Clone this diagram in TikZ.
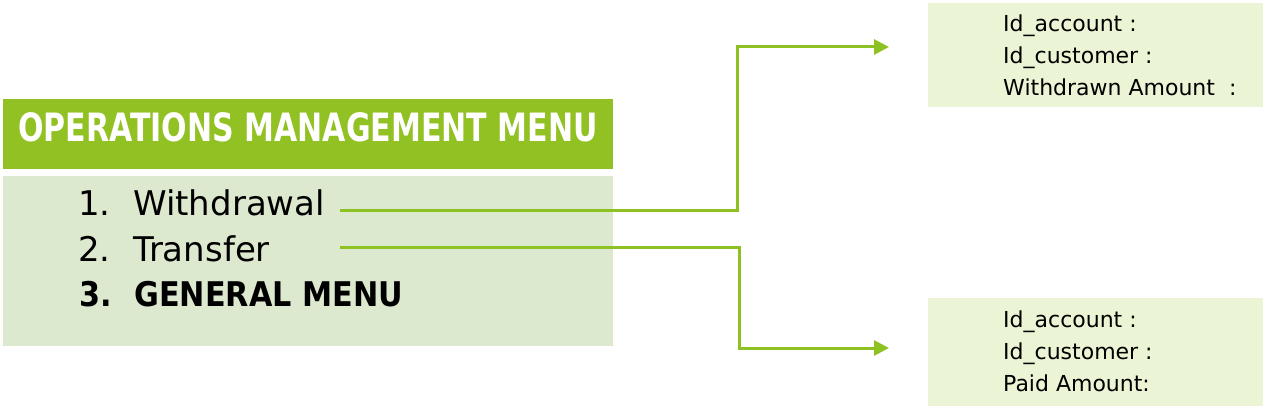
\documentclass[tikz,border=0pt]{standalone}
\usepackage{fontspec}
\setmainfont{DejaVu Sans}
\newfontfamily\hdrfont[FakeStretch=0.77]{DejaVu Sans Bold}
\newfontfamily\itembold[FakeStretch=0.89]{DejaVu Sans Bold}
\usetikzlibrary{arrows.meta}
\definecolor{hdrgreen}{RGB}{146,193,35}
\definecolor{menubg}{RGB}{221,233,206}
\definecolor{formbg}{RGB}{235,245,213}
\definecolor{linkgreen}{RGB}{141,194,34}
\tikzset{
  panel/.style={draw=none, inner sep=0pt, anchor=north west},
  hdrtext/.style={anchor=base west, inner sep=0pt, text=white, font=\hdrfont\fontsize{39}{39}\selectfont},
  itemtext/.style={anchor=base west, inner sep=0pt, font=\fontsize{34}{34}\selectfont},
  itembf/.style={anchor=base west, inner sep=0pt, font=\itembold\fontsize{34}{34}\selectfont},
  formtext/.style={anchor=base west, inner sep=0pt, font=\fontsize{22}{22}\selectfont},
  conn/.style={draw=linkgreen, line width=3pt, -{Triangle[length=15pt,width=15pt]}},
}
\begin{document}
\begin{tikzpicture}[x=1pt,y=-1pt]
\useasboundingbox (0,0) rectangle (1268,414);
% left menu
\node[panel, fill=hdrgreen, minimum width=610pt, minimum height=70pt] (hdr) at (3,99) {};
\node[hdrtext] (hdrlbl) at (18,142) {OPERATIONS MANAGEMENT MENU};
\node[panel, fill=menubg, minimum width=610pt, minimum height=170pt] (menu) at (3,176) {};
\node[itemtext] (n1) at (78,215) {1.};
\node[itemtext] (i1) at (133,215) {Withdrawal};
\node[itemtext] (n2) at (78,261) {2.};
\node[itemtext] (i2) at (133,261) {Transfer};
\node[itembf] (n3) at (79,306) {3.};
\node[itembf] (i3) at (134,306) {GENERAL MENU};
% right forms
\node[panel, fill=formbg, minimum width=335pt, minimum height=104pt] (f1) at (928,3) {};
\node[formtext] (f1a) at (1003,32) {Id\_account :};
\node[formtext] (f1b) at (1003,64) {Id\_customer :};
\node[formtext] (f1c) at (1003,96) {Withdrawn Amount\hspace{14pt}:};
\node[panel, fill=formbg, minimum width=335pt, minimum height=108pt] (f2) at (928,298) {};
\node[formtext] (f2a) at (1003,327) {Id\_account :};
\node[formtext] (f2b) at (1003,359) {Id\_customer :};
\node[formtext] (f2c) at (1003,391) {Paid Amount:};
% connector anchors
\coordinate (s1) at (340,210);
\coordinate (k1) at (737,210);
\coordinate (t1) at (889,47);
\coordinate (s2) at (340,247);
\coordinate (k2) at (739,247);
\coordinate (t2) at (889,348);
\draw[conn] (s1) -- (k1) |- (t1);
\draw[conn] (s2) -- (k2) |- (t2);
\end{tikzpicture}
\end{document}
